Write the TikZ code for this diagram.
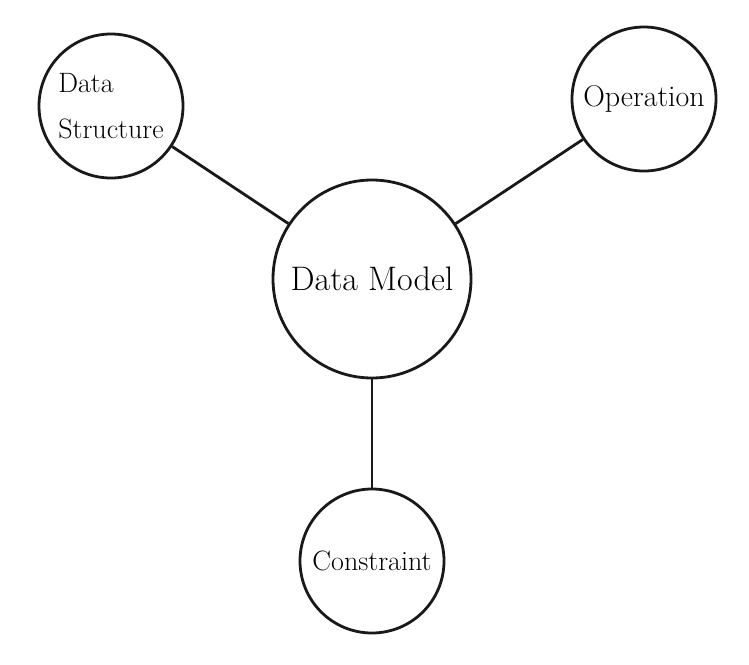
\documentclass[tikz,border=0pt]{standalone}
\begin{document}
\begin{tikzpicture}[x=1pt,y=-1pt,
  bubble/.style={draw=black!90,line width=2.8pt,circle,inner sep=0pt,align=center,fill=white},
  link/.style={draw=black!90,line width=2.8pt}]
\useasboundingbox[fill=white] (0,0) rectangle (749,664);
\node[bubble,minimum size=198pt,font=\fontsize{34}{38}\selectfont] (dm) at (372,279) {Data Model};
\node[bubble,minimum size=144pt,font=\fontsize{28}{46}\selectfont,align=left] (ds) at (111,106) {Data\\Structure};
\node[bubble,minimum size=144pt,font=\fontsize{30}{34}\selectfont] (op) at (644,99) {Operation};
\node[bubble,minimum size=144pt,font=\fontsize{28}{32}\selectfont] (co) at (372,561) {Constraint};
\draw[link] (ds) -- (dm);
\draw[link] (op) -- (dm);
\draw[link] (co) -- (dm);
\end{tikzpicture}
\end{document}
